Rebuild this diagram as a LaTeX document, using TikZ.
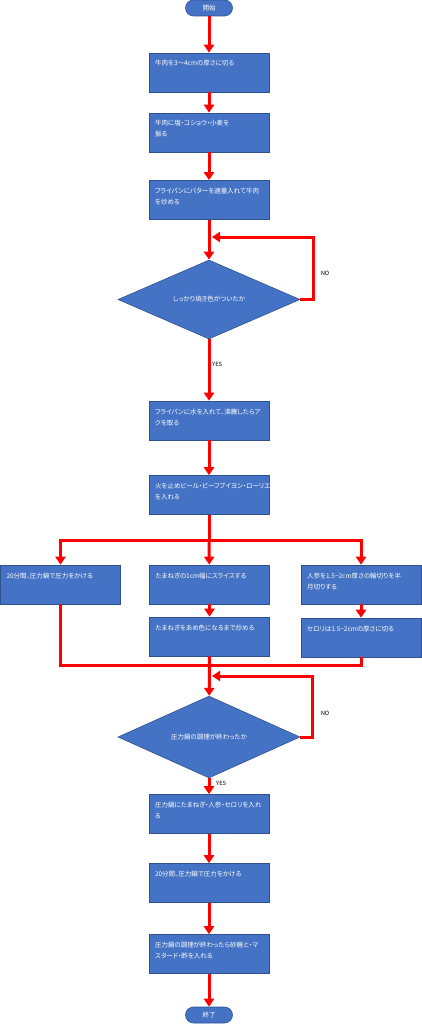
\documentclass[tikz,border=0pt]{standalone}
\usepackage{fontspec}
\newfontfamily\jpfont[RawFeature=+palt]{Noto Sans CJK JP}
\usetikzlibrary{arrows.meta,shapes.geometric}
\definecolor{boxfill}{HTML}{4472C4}
\definecolor{boxedge}{HTML}{2F528F}
\tikzset{
  procbox/.style={draw=boxedge,fill=boxfill,text=white,line width=0.6pt,minimum width=120pt,minimum height=39pt,inner xsep=6pt,inner ysep=1pt,font=\jpfont\fontsize{6.5}{11}\selectfont},
  termbox/.style={draw=boxedge,fill=boxfill,text=white,line width=0.6pt,rounded corners=8pt,minimum width=47pt,minimum height=16pt,inner sep=0pt,font=\jpfont\fontsize{6.5}{8}\selectfont},
  askbox/.style={diamond,draw=boxedge,fill=boxfill,text=white,line width=0.6pt,minimum width=182pt,minimum height=79pt,inner sep=0pt,font=\jpfont\fontsize{6.5}{8}\selectfont},
  flowline/.style={red,line width=3pt},
  flow/.style={flowline,-{Triangle[width=10pt,length=8pt]}},
  tag/.style={font=\jpfont\fontsize{5.8}{7}\selectfont,inner sep=0pt}
}
\newcommand{\boxtxt}[1]{\parbox[c][37pt][t]{108pt}{\raggedright\rule{0pt}{12pt}#1}}
\begin{document}
\begin{tikzpicture}[x=1pt,y=-1pt]
  \useasboundingbox (0,0) rectangle (422,1024);
  \node[termbox] (start) at (209,8) {開始};
  \node[procbox] (cut) at (209,72.5) {\boxtxt{牛肉を3～4cmの厚さに切る}};
  \node[procbox] (salt) at (209,132.5) {\boxtxt{牛肉に塩・コショウ・小麦を\\振る}};
  \node[procbox] (fry) at (209,200) {\boxtxt{フライパンにバターを適量入れて牛肉\\を炒める}};
  \node[askbox] (brown) at (209,299.5) {しっかり焼き色がついたか};
  \node[procbox] (boil) at (209,420.5) {\boxtxt{フライパンに水を入れて、沸騰したらア\\クを取る}};
  \node[procbox] (beer) at (209,495) {\boxtxt{火を止めビール・ビーフブイヨン・ローリエ\\を入れる}};
  \node[procbox] (press) at (60.5,584.5) {\boxtxt{20分間、圧力鍋で圧力をかける}};
  \node[procbox] (slice) at (209.5,584.5) {\boxtxt{たまねぎの1cm幅にスライスする}};
  \node[procbox] (amber) at (209.5,636.5) {\boxtxt{たまねぎをあめ色になるまで炒める}};
  \node[procbox] (carrot) at (361,584.5) {\boxtxt{人参を1.5\textasciitilde 2cm厚さの輪切りを半\\月切りする}};
  \node[procbox] (celery) at (361,637.5) {\boxtxt{セロリは1.5\textasciitilde 2cmの厚さに切る}};
  \node[askbox] (done) at (209,737) {圧力鍋の調理が終わったか};
  \node[procbox] (mix) at (209,814) {\boxtxt{圧力鍋にたまねぎ・人参・セロリを入れ\\る}};
  \node[procbox] (press2) at (209,883) {\boxtxt{20分間、圧力鍋で圧力をかける}};
  \node[procbox] (sugar) at (209,954) {\boxtxt{圧力鍋の調理が終わったら砂糖と・マ\\スタード・酢を入れる}};
  \node[termbox] (stop) at (209,1015) {終了};
  \coordinate (back1) at (212,237);
  \coordinate (split) at (209,540);
  \coordinate (merge) at (209,665);
  \coordinate (back2) at (212,676);
  % main line
  \draw[flow] (start) -- (cut);
  \draw[flow] (cut) -- (salt);
  \draw[flow] (salt) -- (fry);
  \draw[flow] (fry) -- (brown);
  \draw[flow] (brown.east) -- ++(13,0) |- (back1);
  \node[tag] (no1) at (325,273) {NO};
  \draw[flow] (brown) -- (boil);
  \node[tag,anchor=west] (yes1) at (212,364) {YES};
  \draw[flow] (boil) -- (beer);
  % three branches
  \draw[flowline] (beer) -- (split);
  \draw[flow] (split) -| (press);
  \draw[flow] (split) -| (carrot);
  \draw[flow] (split) -- (slice);
  \draw[flow] (slice) -- (amber);
  \draw[flow] (carrot) -- (celery);
  \draw[flowline] (press) |- (merge);
  \draw[flowline] (celery) |- (merge);
  \draw[flow] (amber) -- (done);
  \draw[flow] (done.east) -- ++(12,0) |- (back2);
  \node[tag] (no2) at (325,713) {NO};
  \draw[flow] (done) -- (mix);
  \node[tag,anchor=west] (yes2) at (216,783) {YES};
  \draw[flow] (mix) -- (press2);
  \draw[flow] (press2) -- (sugar);
  \draw[flow] (sugar) -- (stop);
\end{tikzpicture}
\end{document}
